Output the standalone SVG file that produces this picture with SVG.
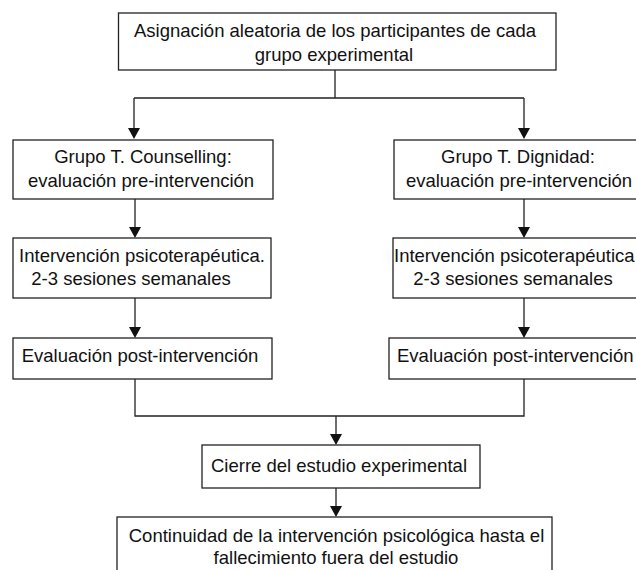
<svg xmlns="http://www.w3.org/2000/svg" width="636" height="570" viewBox="0 0 636 570">
<defs>
<style>
.box{fill:#fff;stroke:#222;stroke-width:1.3}
.t{font-family:"Liberation Sans",Arial,Helvetica,sans-serif;font-size:18.5px;fill:#111;text-anchor:middle}
.s{text-anchor:start}
.c{fill:none;stroke:#222;stroke-width:1.3}
.ah{fill:#111}
</style>
</defs>
<rect width="636" height="570" fill="#fff"/>
<g id="connectors">
<path class="c" d="M335,70 V98 M134,98 H524 M134,98 V130 M524,98 V130"/>
<polygon class="ah" points="128,128 140,128 134,139"/>
<polygon class="ah" points="518,128 530,128 524,139"/>
<path class="c" d="M135,199 V228 M135,298 V328 M524,199 V228 M524,298 V328"/>
<polygon class="ah" points="129,227 141,227 135,238"/>
<polygon class="ah" points="129,327 141,327 135,338"/>
<polygon class="ah" points="518,227 530,227 524,238"/>
<polygon class="ah" points="518,327 530,327 524,338"/>
<path class="c" d="M135,379 V416 H524 V379 M336,416 V435 M336,488 V507"/>
<polygon class="ah" points="330,434 342,434 336,445"/>
<polygon class="ah" points="330,506 342,506 336,517"/>
</g>
<g id="n1"><rect class="box" x="118.5" y="13" width="437.5" height="57"/>
<text class="t" x="335" y="37">Asignación aleatoria de los participantes de cada</text>
<text class="t" x="334" y="61">grupo experimental</text></g>
<g id="n2"><rect class="box" x="13" y="140" width="260" height="59"/>
<text class="t" x="143" y="163">Grupo T. Counselling:</text>
<text class="t" x="141" y="187">evaluación pre-intervención</text></g>
<g id="n3"><rect class="box" x="13" y="238" width="258" height="60"/>
<text class="t" x="142" y="262">Intervención psicoterapéutica.</text>
<text class="t" x="131" y="285">2-3 sesiones semanales</text></g>
<g id="n4"><rect class="box" x="13" y="338" width="259" height="41"/>
<text class="t" x="140" y="362">Evaluación post-intervención</text></g>
<g id="n5"><rect class="box" x="394" y="140" width="252" height="59"/>
<text class="t" x="518" y="163">Grupo T. Dignidad:</text>
<text class="t" x="519" y="187">evaluación pre-intervención</text></g>
<g id="n6"><rect class="box" x="393" y="238" width="252" height="60"/>
<text class="t s" x="394" y="262">Intervención psicoterapéutica</text>
<text class="t" x="513" y="285">2-3 sesiones semanales</text></g>
<g id="n7"><rect class="box" x="389" y="338" width="256" height="41"/>
<text class="t s" x="397" y="362">Evaluación post-intervención</text></g>
<g id="n8"><rect class="box" x="202" y="445" width="278" height="43"/>
<text class="t" x="339" y="472">Cierre del estudio experimental</text></g>
<g id="n9"><rect class="box" x="117" y="517" width="435" height="60"/>
<text class="t" x="336.5" y="542">Continuidad de la intervención psicológica hasta el</text>
<text class="t" x="336" y="564">fallecimiento fuera del estudio</text></g>
</svg>
